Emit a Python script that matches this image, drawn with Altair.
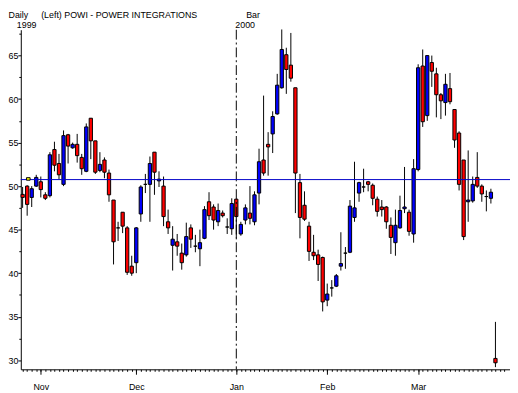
import altair as alt
import pandas as pd

# ---- data -------------------------------------------------------------
holidays = ["1999-11-25", "1999-12-24", "2000-01-17", "2000-02-21"]
dates = [d for d in pd.bdate_range("1999-10-26", "2000-03-24")
         if d.strftime("%Y-%m-%d") not in holidays]

opens = [49.05, 50.0, 48.7, 50.0,
         50.5, 49.0, 48.9, 54.2, 52.6, 50.2, 55.9, 54.4, 54.8, 53.3,
         51.7, 57.8, 55.2, 51.8, 53.0, 51.5, 48.4, 45.2, 47.0, 45.2, 40.8,
         41.2, 46.8, 50.2, 50.2, 53.9, 50.6, 50.0, 45.9, 43.2, 43.6, 42.3,
         42.1, 45.2, 43.1, 42.8, 44.0, 48.2, 47.6, 45.9, 46.9, 45.3, 45.1,
         48.5, 44.5, 46.1, 46.9, 45.9, 49.2, 53.0, 54.8, 56.0, 58.3, 61.3,
         65.1, 63.9, 61.3, 50.4, 47.8, 45.4, 42.4, 42.1, 41.8,
         36.9, 38.3, 38.5, 40.8, 42.3, 42.4, 46.4, 49.2, 49.9, 50.5, 50.1,
         48.5, 47.6, 47.6, 45.5, 43.5, 45.2, 47.4, 47.0, 44.5,
         51.9, 63.8, 58.1, 64.2, 62.9, 60.5, 59.6, 61.2, 58.8, 56.1, 53.0,
         48.2, 48.3, 51.0, 50.0, 48.8, 48.6, 30.2]
highs = [49.9, 50.1, 50.0, 51.3,
         51.1, 49.3, 53.9, 55.1, 53.7, 56.4, 56.0, 55.0, 56.0, 53.7,
         57.2, 57.8, 55.2, 53.9, 53.3, 51.9, 48.4, 45.9, 47.0, 45.4, 42.0,
         45.3, 50.1, 51.4, 53.4, 53.9, 51.7, 51.1, 47.3, 45.4, 44.5, 43.4,
         45.8, 45.6, 44.4, 45.0, 47.7, 49.3, 47.9, 48.0, 47.2, 46.3, 48.6,
         48.5, 45.9, 47.9, 50.0, 49.4, 54.3, 60.4, 56.2, 58.6, 62.9, 68.0,
         65.9, 67.6, 61.3, 51.4, 49.4, 45.9, 44.4, 42.7, 41.9,
         38.8, 39.2, 39.9, 44.7, 43.0, 48.4, 52.8, 50.5, 52.0, 50.6, 50.3,
         48.8, 48.4, 47.7, 46.4, 47.3, 48.9, 52.2, 47.3, 53.1,
         64.0, 65.7, 65.0, 65.0, 63.6, 60.7, 62.9, 63.0, 58.8, 56.3, 53.0,
         54.1, 51.1, 53.9, 50.2, 49.5, 49.7, 34.4]
lows = [47.5, 46.6, 47.6, 49.9,
        48.7, 48.4, 48.7, 51.7, 50.8, 50.0, 52.6, 54.3, 52.7, 51.3,
        51.6, 53.1, 51.4, 51.6, 50.9, 48.2, 41.0, 43.7, 44.6, 39.8, 39.7,
        40.0, 45.9, 49.2, 45.9, 49.0, 49.9, 45.4, 44.5, 40.3, 42.0, 40.4,
        41.9, 42.9, 42.4, 40.8, 43.9, 46.1, 45.0, 45.4, 46.4, 44.5, 44.4,
        44.0, 44.3, 45.6, 45.6, 45.5, 47.9, 51.2, 51.2, 53.8, 58.2, 61.2,
        60.6, 62.0, 46.9, 44.0, 46.0, 41.4, 41.5, 39.1, 35.6,
        36.2, 37.3, 38.4, 40.3, 40.5, 42.3, 45.9, 48.2, 49.3, 49.4, 47.8,
        46.5, 46.5, 45.1, 42.2, 42.0, 45.1, 46.9, 44.3, 43.5,
        51.7, 56.8, 57.5, 61.4, 57.9, 57.7, 58.1, 59.4, 54.4, 49.5, 43.8,
        45.9, 48.1, 49.8, 48.2, 47.1, 48.0, 29.2]
closes = [48.7, 47.9, 49.7, 51.0,
          49.6, 48.6, 53.6, 52.4, 51.3, 55.8, 54.6, 54.8, 53.5, 52.0,
          56.8, 55.2, 51.6, 52.5, 51.6, 49.0, 43.6, 45.2, 45.4, 40.1, 40.0,
          45.2, 49.9, 50.2, 52.6, 51.6, 50.8, 46.5, 45.2, 43.9, 43.1, 41.2,
          44.2, 43.9, 43.1, 43.5, 47.3, 46.6, 46.1, 47.2, 46.6, 45.3, 48.0,
          46.5, 45.6, 47.5, 46.3, 49.0, 52.8, 51.5, 54.5, 58.0, 61.6, 65.7,
          63.4, 62.4, 51.5, 46.4, 46.2, 42.5, 42.0, 41.0, 36.7,
          37.6, 38.3, 39.7, 41.1, 42.3, 47.7, 47.5, 50.4, 49.9, 50.2, 48.6,
          47.1, 47.3, 45.9, 44.1, 45.5, 47.2, 47.6, 44.8, 52.0,
          63.6, 57.4, 65.0, 63.2, 60.5, 59.8, 61.7, 59.7, 55.3, 50.2, 44.2,
          48.4, 50.2, 50.0, 49.1, 48.8, 49.3, 29.7]

month_labels = ["Nov", "Dec", "Jan", "Feb", "Mar"]
year_labels = ["1999", "2000"]
ref_level = [50.75]            # horizontal line
marker_level = [50.68, 50.97]  # small yellow handle on the line
y_major = [30, 35, 40, 45, 50, 55, 60, 65]
y_minor = [32.5, 37.5, 42.5, 47.5, 52.5, 57.5, 62.5, 67.5]

# ---- tables -----------------------------------------------------------
df = pd.DataFrame({"date": dates, "open": opens, "high": highs,
                   "low": lows, "close": closes})
df["i"] = range(len(df))
month_start = [k for k in range(1, len(df))
               if df["date"][k].month != df["date"][k - 1].month]
year_start = [k for k in range(1, len(df))
              if df["date"][k].year != df["date"][k - 1].year]

FONT = "Liberation Sans"
xdom = [-0.4, 107.2]
ydom = [28.95, 67.97]

# label expression: index -> month name
lab = "''"
for pos, name in reversed(list(zip(month_start, month_labels))):
    lab = f"datum.value == {pos} ? '{name}' : ({lab})"

x_major = alt.Axis(
    values=month_start, title=None, grid=False, tickSize=5,
    labelExpr=lab, labelFont=FONT, labelFontSize=9, labelColor="black",
    labelPadding=9, labelFlush=False, labelOverlap=False,
    domainColor="black", tickColor="black", orient="bottom",
)
y_axis_major = alt.Axis(
    values=y_major, title=None, grid=False, tickSize=3,
    labelFont=FONT, labelFontSize=9, labelColor="black", labelPadding=0,
    labelOverlap=False, labelFlush=False,
    domainColor="black", tickColor="black", orient="left",
)
x_minor = alt.Axis(values=list(range(0, 107)), title=None, grid=False,
                   tickSize=2, labels=False, domain=False,
                   tickColor="black", orient="bottom")
y_minor_ax = alt.Axis(values=y_minor, title=None, grid=False, tickSize=2,
                      labels=False, domain=False, tickColor="black",
                      orient="left")

xs = alt.Scale(domain=xdom, nice=False, zero=False)
ys = alt.Scale(domain=ydom, nice=False, zero=False)

base = alt.Chart(df)

wicks = base.mark_rule(color="black", strokeWidth=1).encode(
    x=alt.X("i:Q", scale=xs, axis=x_major),
    y=alt.Y("low:Q", scale=ys, axis=y_axis_major),
    y2="high:Q",
)

minor = base.mark_point(opacity=0).encode(
    x=alt.X("i:Q", scale=xs, axis=x_minor),
    y=alt.Y("close:Q", scale=ys, axis=y_minor_ax),
)

bodies = base.transform_calculate(
    x0="datum.i - 0.36", x1="datum.i + 0.36",
    up="datum.close >= datum.open ? '#0000ff' : '#ff0000'",
).mark_rect(stroke="black", strokeWidth=1).encode(
    x=alt.X("x0:Q", scale=xs, axis=None),
    x2="x1:Q",
    y=alt.Y("open:Q", scale=ys, axis=None),
    y2="close:Q",
    fill=alt.Fill("up:N", scale=None),
)

hline = alt.Chart(pd.DataFrame({"v": ref_level})).mark_rule(
    color="#0000c8", strokeWidth=1).encode(y=alt.Y("v:Q", scale=ys, axis=None))

marker = alt.Chart(pd.DataFrame({"a": [marker_level[0]], "b": [marker_level[1]], "i": [1.25]})).transform_calculate(
    x0="datum.i - 0.4", x1="datum.i + 0.4"
).mark_rect(fill="#ffff00", stroke="black", strokeWidth=1).encode(
    x=alt.X("x0:Q", scale=xs, axis=None), x2="x1:Q",
    y=alt.Y("a:Q", scale=ys, axis=None), y2="b:Q")

vline = alt.Chart(pd.DataFrame({"i": year_start})).mark_rule(
    color="black", strokeWidth=1, strokeDash=[10, 3, 2, 3]).encode(
    x=alt.X("i:Q", scale=xs, axis=None))


def label(txt, x, y):
    return alt.Chart(pd.DataFrame({"t": [txt]})).mark_text(
        font=FONT, fontSize=9, color="black", align="left",
        baseline="alphabetic").encode(
        text="t:N", x=alt.value(x), y=alt.value(y))


t_daily = label("Daily", -12.5, -12)
t_name = label("(Left) POWI - POWER INTEGRATIONS", 20.7, -12)
t_bar = label("Bar", 229, -12)
t_y1 = label(year_labels[0], -4, -2)
t_y2 = alt.Chart(pd.DataFrame({"t": [year_labels[1]], "i": year_start})).mark_text(
    font=FONT, fontSize=9, color="black", align="left", baseline="alphabetic", dx=-1).encode(
    text="t:N", x=alt.X("i:Q", scale=xs, axis=None), y=alt.value(-2))

chart = alt.layer(
    wicks, minor, bodies, vline, hline, marker,
    t_daily, t_name, t_bar, t_y1, t_y2,
).resolve_axis(x="independent", y="independent").properties(
    width=497, height=345,
    autosize=alt.AutoSizeParams(type="none"),
    padding={"left": 13, "top": 19, "right": 0, "bottom": 21},
    background="white",
).configure_view(stroke=None)

chart.save("out.html", embed_options={"renderer": "svg", "actions": False})
